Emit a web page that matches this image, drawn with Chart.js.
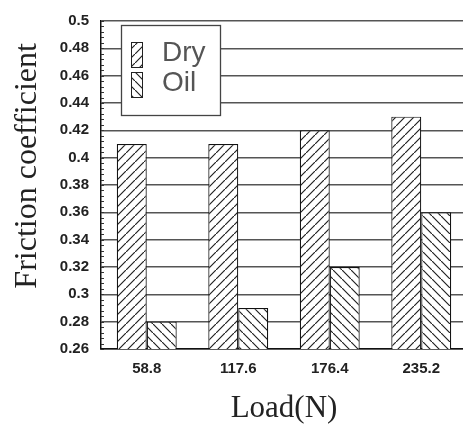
<!DOCTYPE html>
<html>
<head>
<meta charset="utf-8">
<script src="https://cdn.jsdelivr.net/npm/chart.js@4"></script>
<style>
  html, body { margin: 0; padding: 0; background: #fff; overflow: hidden; }
  #wrap { width: 463px; height: 429px; overflow: hidden; }
</style>
</head>
<body>
<div id="wrap"><canvas id="c" width="467" height="429"></canvas></div>
<script>
//----------------------------------------------------------------
// friction coefficient vs load, dry and oil
//----------------------------------------------------------------
const loads = ['58.8', '117.6', '176.4', '235.2'];
const dry = [0.41, 0.41, 0.42, 0.43];
const oil = [0.28, 0.29, 0.32, 0.36];
const yTicks = [0.26, 0.28, 0.3, 0.32, 0.34, 0.36, 0.38, 0.4, 0.42, 0.44, 0.46, 0.48, 0.5];
const seriesNames = ['Dry', 'Oil'];

const tickFont = { family: 'Liberation Sans', size: 15, weight: 'bold' };
const serif = 'Liberation Serif';

/**
 * hatch tile, dir 1 = '/', dir -1 = '\'
 */
function hatch(dir) {
    const s = 9;
    const tile = document.createElement('canvas');
    tile.width = s; tile.height = s;
    const t = tile.getContext('2d');
    t.fillStyle = '#fff';
    t.fillRect(0, 0, s, s);
    t.strokeStyle = '#222';
    t.lineWidth = 1.2;
    t.beginPath();
    if (dir > 0) {
        t.moveTo(-1, s + 1); t.lineTo(s + 1, -1);
        t.moveTo(-2, 1); t.lineTo(1, -2);
        t.moveTo(s - 1, s + 2); t.lineTo(s + 2, s - 1);
    } else {
        t.moveTo(-1, -1); t.lineTo(s + 1, s + 1);
        t.moveTo(s - 1, -2); t.lineTo(s + 2, 1);
        t.moveTo(-2, s - 1); t.lineTo(1, s + 2);
    }
    t.stroke();
    return document.getElementById('c').getContext('2d').createPattern(tile, 'repeat');
}

const dryFill = hatch(1);
const oilFill = hatch(-1);

// small inward ticks on the y axis, y title (sits a bit above centre), boxed legend
const extras = {
    id: 'extras',
    afterDatasetsDraw(chart) {
        const ctx = chart.ctx;
        const y = chart.scales.y;
        const x0 = chart.chartArea.left;
        ctx.save();
        ctx.strokeStyle = '#333';
        ctx.lineWidth = 1;
        for (let v = yTicks[0]; v <= yTicks[yTicks.length - 1] + 1e-9; v += 0.004) {
            const py = Math.round(y.getPixelForValue(v)) + 0.5;
            ctx.beginPath();
            ctx.moveTo(x0, py);
            ctx.lineTo(x0 + 3, py);
            ctx.stroke();
        }

        // y title
        ctx.save();
        ctx.translate(28, y.getPixelForValue(0.394));
        ctx.rotate(-Math.PI / 2);
        ctx.fillStyle = '#222';
        ctx.font = '32px "' + serif + '"';
        ctx.textAlign = 'center';
        ctx.textBaseline = 'middle';
        ctx.fillText(chart.options.scales.y.title.text, 0, 0);
        ctx.restore();

        // legend box
        ctx.fillStyle = '#fff';
        ctx.fillRect(121.5, 25.5, 99, 90);
        ctx.strokeStyle = '#444';
        ctx.lineWidth = 1.3;
        ctx.strokeRect(121.5, 25.5, 99, 90);
        chart.data.datasets.forEach((ds, i) => {
            const top = 42 + i * 30;
            ctx.fillStyle = ds.backgroundColor;
            ctx.fillRect(131, top, 11, 25);
            ctx.strokeStyle = '#222';
            ctx.lineWidth = 1;
            ctx.strokeRect(131.5, top + 0.5, 11, 25);
            ctx.fillStyle = '#555';
            ctx.font = '28px "Liberation Sans"';
            ctx.textBaseline = 'alphabetic';
            ctx.fillText(ds.label, 162, top + 19);
        });
        ctx.restore();
    }
};

const chart = new Chart(document.getElementById('c'), {
    type: 'bar',
    data: {
        labels: loads,
        datasets: [
            {
                label: seriesNames[0],
                data: dry,
                backgroundColor: dryFill,
                borderColor: '#111',
                borderWidth: 1.2,
                borderSkipped: false
            },
            {
                label: seriesNames[1],
                data: oil,
                backgroundColor: oilFill,
                borderColor: '#111',
                borderWidth: 1.2,
                borderSkipped: false
            }
        ]
    },
    options: {
        responsive: false,
        animation: false,
        layout: { padding: { top: 15, right: 0, left: 0, bottom: 0 } },
        datasets: { bar: { barPercentage: 1, categoryPercentage: 0.655 } },
        plugins: {
            legend: { display: false },
            tooltip: { enabled: false }
        },
        scales: {
            x: {
                grid: { display: false, drawTicks: false },
                border: { display: true, color: '#111', width: 1.5 },
                ticks: { color: '#222', font: tickFont, padding: 11 },
                title: {
                    display: true,
                    text: 'Load(N)',
                    color: '#222',
                    font: { family: serif, size: 31 },
                    padding: { top: 0, bottom: 2 }
                },
                afterFit(scale) { scale.height = 80; }
            },
            y: {
                min: yTicks[0],
                max: yTicks[yTicks.length - 1],
                afterBuildTicks(scale) {
                    scale.ticks = yTicks.map(v => ({ value: v }));
                },
                grid: { color: '#555', lineWidth: 1.5, drawTicks: false },
                border: { display: true, color: '#111', width: 1.5 },
                ticks: {
                    color: '#222',
                    font: tickFont,
                    padding: 12,
                    callback: v => String(parseFloat(v.toFixed(2)))
                },
                // drawn by the extras plugin so it can sit where the original does
                title: {
                    display: false,
                    text: 'Friction coefficient'
                },
                afterFit(scale) { scale.width = 101; }
            }
        }
    },
    plugins: [extras]
});
</script>
</body>
</html>
